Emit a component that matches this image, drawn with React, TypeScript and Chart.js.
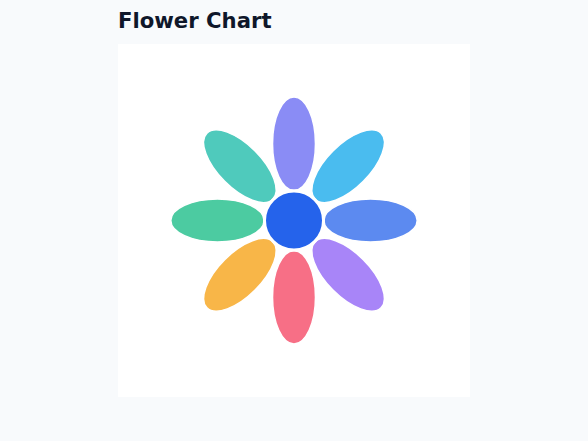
import { useEffect, useRef } from "react";
import { Chart, registerables } from "chart.js";

Chart.register(...registerables);

// petals clockwise from the top
const petalNames = ["Indigo", "Sky", "Blue", "Violet", "Rose", "Amber", "Emerald", "Teal"];
const petalReach = [7, 7, 7, 7, 7, 7, 7, 7];
const petalColors = [
  "rgba(99,102,241,0.75)",
  "rgba(14,165,233,0.75)",
  "rgba(37,99,235,0.75)",
  "rgba(139,92,246,0.75)",
  "rgba(244,63,94,0.75)",
  "rgba(245,158,11,0.75)",
  "rgba(16,185,129,0.75)",
  "rgba(20,184,166,0.75)",
];
const centerValue = [{ x: 0, y: 0 }];

const INNER = 1.7; // where the petals start, in axis units
const PETAL_HALF_WIDTH = 1.22;

const petalPoints = petalReach.map((reach, i) => {
  const angle = Math.PI / 2 - (i * 2 * Math.PI) / petalReach.length;
  const mid = (reach + INNER) / 2;
  return { x: mid * Math.cos(angle), y: mid * Math.sin(angle) };
});

const petalPlugin = {
  id: "petals",
  beforeDatasetsDraw(chart: any) {
    const { ctx, scales } = chart;
    const meta = chart.getDatasetMeta(0);
    const cx = scales.x.getPixelForValue(0);
    const cy = scales.y.getPixelForValue(0);
    const unit = Math.abs(scales.x.getPixelForValue(1) - cx);
    ctx.save();
    meta.data.forEach((el: any, i: number) => {
      const half = ((petalReach[i] - INNER) / 2) * unit;
      const rot = Math.atan2(el.y - cy, el.x - cx);
      ctx.beginPath();
      ctx.ellipse(el.x, el.y, half, PETAL_HALF_WIDTH * unit, rot, 0, Math.PI * 2);
      ctx.fillStyle = petalColors[i];
      ctx.fill();
      ctx.lineWidth = 1.5;
      ctx.strokeStyle = "#ffffff";
      ctx.stroke();
    });
    ctx.restore();
  },
};

const FlowerChart = () => {
  const canvasRef = useRef<HTMLCanvasElement | null>(null);

  useEffect(() => {
    if (!canvasRef.current) return;
    const chart = new Chart(canvasRef.current, {
      type: "scatter",
      data: {
        labels: petalNames,
        datasets: [
          {
            label: "Petals",
            data: petalPoints,
            pointRadius: 0,
            pointHoverRadius: 0,
          },
          {
            label: "Center",
            data: centerValue,
            pointRadius: 29.5,
            pointHoverRadius: 29.5,
            backgroundColor: "#2563eb",
            borderColor: "#ffffff",
            borderWidth: 3,
          },
        ],
      },
      options: {
        animation: false,
        responsive: true,
        maintainAspectRatio: false,
        events: [],
        layout: { padding: 0, autoPadding: false },
        scales: {
          x: { type: "linear", min: -10, max: 10, display: false },
          y: { type: "linear", min: -10, max: 10, display: false },
        },
        plugins: {
          legend: { display: false },
          tooltip: { enabled: false },
        },
      },
      plugins: [petalPlugin],
    });
    return () => {
      chart.destroy();
    };
  }, []);

  return (
    <div style={{ width: 352, height: 353, background: "#ffffff", position: "relative" }}>
      <canvas ref={canvasRef} />
    </div>
  );
};

export default function App() {
  useEffect(() => {
    document.body.style.background = "#f8fafc";
  }, []);

  return (
    <div style={{ width: 352, margin: "0 auto", paddingTop: 1 }}>
      <div
        style={{
          fontFamily: "'DejaVu Sans', sans-serif",
          fontWeight: 700,
          fontSize: 21.2,
          lineHeight: "24px",
          color: "#0f172a",
          marginBottom: 11,
        }}
      >
        Flower Chart
      </div>
      <FlowerChart />
    </div>
  );
}
